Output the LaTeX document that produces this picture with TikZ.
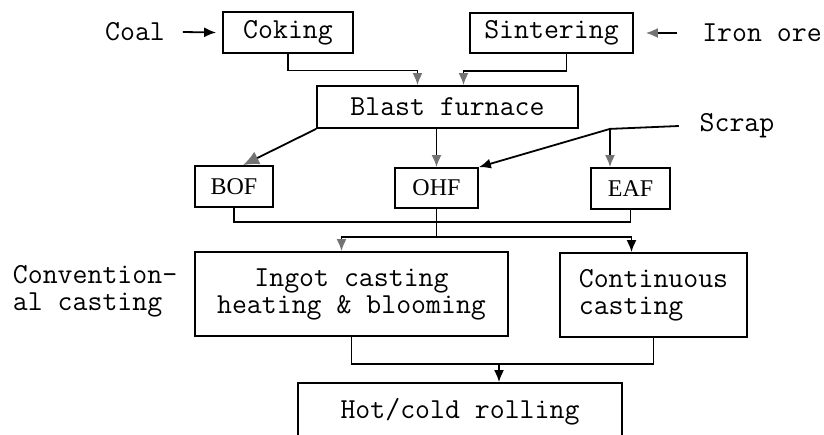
\documentclass[tikz,border=0pt]{standalone}
\usepackage{fontspec}
\newfontfamily\boxserif{Liberation Serif}
\usetikzlibrary{arrows.meta,calc}
\begin{document}
\begin{tikzpicture}[x=1pt,y=-1pt,
  line width=1.8pt,
  mono/.style={font=\ttfamily\fontsize{29}{27}\selectfont},
  ser/.style={font=\boxserif\fontsize{24}{26}\selectfont},
  procbox/.style={draw,rectangle,inner sep=0pt},
  label/.style={inner sep=0pt},
  arr/.style={-{Latex[length=12pt,width=10pt]}},
  garr/.style={-{Latex[length=12pt,width=10pt,color=black!55]}},
  bigarr/.style={-{Latex[length=16pt,width=14pt,color=black!55]}}
]
\clip (0,0) rectangle (824,434);
\fill[white] (0,0) rectangle (824,434);

% boxes
\node[procbox,mono,minimum width=130pt,minimum height=41pt] (coking) at (288,32.5) {Coking};
\node[procbox,mono,minimum width=163pt,minimum height=40pt] (sint) at (551.5,33) {Sintering};
\node[procbox,mono,minimum width=261pt,minimum height=42pt] (bf) at (447.5,107) {Blast furnace};
\node[procbox,ser,minimum width=78pt,minimum height=41pt] (bof) at (234,186.5) {BOF};
\node[procbox,ser,minimum width=83pt,minimum height=40pt] (ohf) at (436.5,188) {OHF};
\node[procbox,ser,minimum width=79pt,minimum height=41pt] (eaf) at (630.5,188.5) {EAF};
\node[procbox,mono,align=center,minimum width=313pt,minimum height=84pt] (ingot) at (351.5,294) {Ingot casting\\heating \& blooming};
\node[procbox,mono,align=left,minimum width=187pt,minimum height=84pt] (cont) at (653.5,295) {Continuous\\casting};
\node[procbox,mono,minimum width=324pt,minimum height=58pt] (hot) at (460,412) {Hot/cold rolling};

% labels
\node[label,mono] (coal) at (135,32) {Coal};
\node[label,mono] (iron) at (762,33) {Iron ore};
\node[label,mono] (scrap) at (737,126) {Scrap};
\node[label,mono,align=left,anchor=west] (conv) at (12,291.5) {Convention-\\al casting};

% connectors
\draw[arr] ([xshift=17pt]coal.east) -- ([xshift=-6pt]coking.west);
\draw[garr] ([xshift=-24pt]iron.west) -- ([xshift=12pt]sint.east);

\draw[garr] (coking.south) -- ++(0,16.5) -| ([xshift=-30pt]bf.north);
\draw[garr] ([xshift=15pt]sint.south) -- ++(0,17) -| ([xshift=16pt]bf.north);

\draw[bigarr] (bf.south west) -- ([xshift=9pt]bof.north);
\draw[garr] (ohf.north |- bf.south) -- (ohf.north);

\coordinate (sj) at ([xshift=-20.5pt]eaf.north |- bf.south);
\draw ([xshift=-20pt]scrap.west) -- (sj);
\draw[garr] (sj) -- ([xshift=-20.5pt]eaf.north);
\draw[arr] (sj) -- (ohf.north east);

\draw (bof.south) -- ++(0,14) -| (eaf.south);
\coordinate (mj) at ($(ohf.south)+(0,28)$);
\draw (ohf.south) -- (mj);
\draw[garr] (mj) -| ([xshift=-10pt]ingot.north);
\draw[arr] (mj) -| ([xshift=-22pt]cont.north);

\coordinate (bj) at ($(ingot.south)+(0,27)$);
\draw (ingot.south) -- (bj) -| (cont.south);
\draw[arr] ([xshift=39pt]hot.north |- bj) -- ([xshift=39pt]hot.north);
\end{tikzpicture}
\end{document}
